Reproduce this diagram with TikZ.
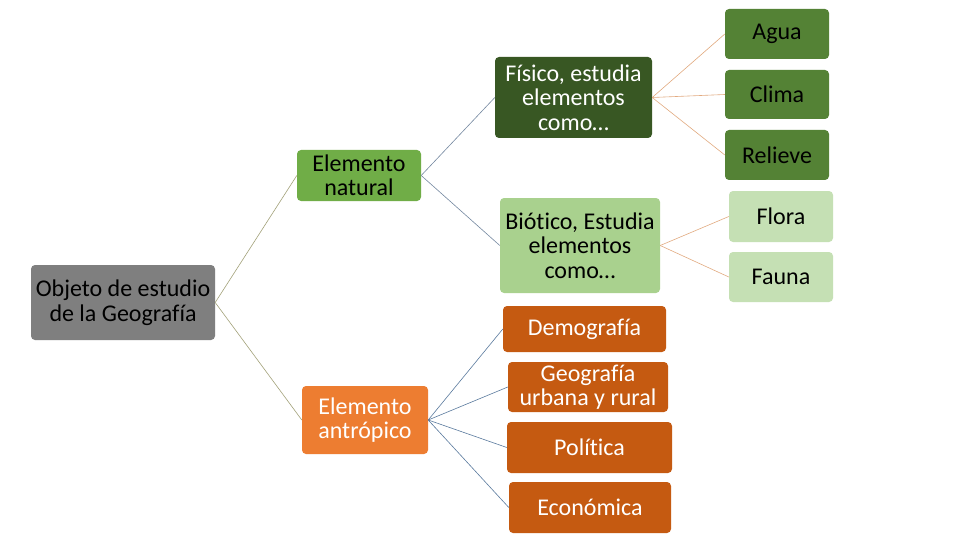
\documentclass[tikz,border=0pt]{standalone}
\usepackage{fontspec}
\setmainfont{Carlito}[Ligatures=NoCommon]
\definecolor{cgray}{HTML}{7F7F7F}
\definecolor{cnat}{HTML}{70AD47}
\definecolor{cant}{HTML}{ED7D31}
\definecolor{cfis}{HTML}{385723}
\definecolor{cfisk}{HTML}{548235}
\definecolor{cbio}{HTML}{A9D18E}
\definecolor{cbiok}{HTML}{C5E0B4}
\definecolor{cantk}{HTML}{C55A11}
\definecolor{lolive}{HTML}{A3A27A}
\definecolor{lslate}{HTML}{7588A0}
\definecolor{lorange}{HTML}{E2AA80}
\definecolor{lblue}{HTML}{5A7A9E}
\begin{document}
\begin{tikzpicture}[x=1pt,y=-1pt,
  box/.style={rounded corners=4pt, inner sep=0pt, align=center,
    font=\fontsize{24}{24.5}\selectfont},
  conn/.style={line width=0.6pt}]
\useasboundingbox (0,0) rectangle (960,540);
\fill[white] (0,0) rectangle (960,540);
% nodes
\node[box, fill=cgray, text=black, minimum width=184pt, minimum height=75pt] (obj) at (123,302.5) {Objeto de estudio\\de la Geografía};
\node[box, fill=cnat, text=black, minimum width=124pt, minimum height=51pt] (nat) at (359,175.5) {Elemento\\natural};
\node[box, fill=cant, text=white, minimum width=126pt, minimum height=68pt] (ant) at (365,420) {Elemento\\antrópico};
\node[box, fill=cfis, text=white, minimum width=157pt, minimum height=81pt] (fis) at (573.5,97.5) {Físico, estudia\\elementos\\como…};
\node[box, fill=cfisk, text=black, minimum width=104pt, minimum height=50pt] (agua) at (777,34) {Agua};
\node[box, fill=cfisk, text=black, minimum width=104pt, minimum height=49pt] (clima) at (777,94.5) {Clima};
\node[box, fill=cfisk, text=black, minimum width=104pt, minimum height=50pt] (relieve) at (777,155) {Relieve};
\node[box, fill=cbio, text=black, minimum width=160pt, minimum height=95pt] (bio) at (580,245.5) {Biótico, Estudia\\elementos\\como…};
\node[box, fill=cbiok, text=black, minimum width=104pt, minimum height=51pt] (flora) at (781,216.5) {Flora};
\node[box, fill=cbiok, text=black, minimum width=104pt, minimum height=50pt] (fauna) at (781,277) {Fauna};
\node[box, fill=cantk, text=white, minimum width=163pt, minimum height=46pt] (demo) at (584.5,329) {Demografía};
\node[box, fill=cantk, text=white, minimum width=160pt, minimum height=50pt] (geo) at (588,387) {Geografía\\urbana y rural};
\node[box, fill=cantk, text=white, minimum width=165pt, minimum height=51pt] (pol) at (589.5,447.5) {Política};
\node[box, fill=cantk, text=white, minimum width=162pt, minimum height=51pt] (eco) at (590,507.5) {Económica};
% connectors
\draw[conn, lolive] (obj.east) -- (nat.west);
\draw[conn, lolive] (obj.east) -- (ant.west);
\draw[conn, lslate] (nat.east) -- (fis.west);
\draw[conn, lslate] (nat.east) -- (bio.west);
\draw[conn, lorange] (fis.east) -- (agua.west);
\draw[conn, lorange] (fis.east) -- (clima.west);
\draw[conn, lorange] (fis.east) -- (relieve.west);
\draw[conn, lorange] (bio.east) -- (flora.west);
\draw[conn, lorange] (bio.east) -- (fauna.west);
\draw[conn, lblue] (ant.east) -- (demo.west);
\draw[conn, lblue] (ant.east) -- (geo.west);
\draw[conn, lblue] (ant.east) -- (pol.west);
\draw[conn, lblue] (ant.east) -- (eco.west);
\end{tikzpicture}
\end{document}
